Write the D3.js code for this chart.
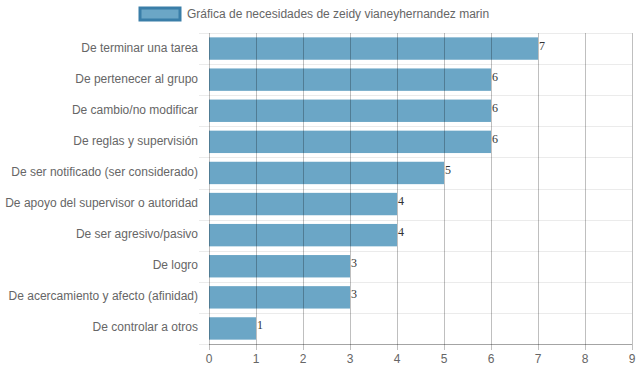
<!DOCTYPE html>
<html>
<head>
<meta charset="utf-8">
<script src="https://cdn.jsdelivr.net/npm/d3@7"></script>
<style>
  body { margin: 0; background: #fff; }
  svg { display: block; font-family: "Liberation Sans", Arial, sans-serif; }
</style>
</head>
<body>
<div id="chart"></div>
<script>
const categories = [
    "De terminar una tarea",
    "De pertenecer al grupo",
    "De cambio/no modificar",
    "De reglas y supervisión",
    "De ser notificado (ser considerado)",
    "De apoyo del supervisor o autoridad",
    "De ser agresivo/pasivo",
    "De logro",
    "De acercamiento y afecto (afinidad)",
    "De controlar a otros"
]
const values = [7, 6, 6, 6, 5, 4, 4, 3, 3, 1]
const xTicks = [0, 1, 2, 3, 4, 5, 6, 7, 8, 9]
const legendLabel = "Gráfica de necesidades de zeidy vianeyhernandez marin"

function drawChart() {
    const width = 639, height = 372
    const margin = {top: 33, right: 7, bottom: 28, left: 209}

    let svg = d3.select("#chart").append("svg")
        .attr("width", width)
        .attr("height", height)

    let x = d3.scaleLinear()
        .domain([0, 9])
        .range([margin.left, width - margin.right])

    let y = d3.scaleBand()
        .domain(categories)
        .range([margin.top, height - margin.bottom])

    // horizontal grid lines between categories
    let hLines = categories.map(c => y(c)).concat([y.range()[1]])
    svg.append("g").selectAll("line")
        .data(hLines)
        .enter().append("line")
        .attr("x1", margin.left - 10)
        .attr("x2", width - margin.right)
        .attr("y1", d => Math.round(d) + 0.5)
        .attr("y2", d => Math.round(d) + 0.5)
        .attr("stroke", "rgba(0,0,0,0.08)")

    // bars
    let barH = y.bandwidth() * 0.72
    svg.append("g").selectAll("rect")
        .data(values)
        .enter().append("rect")
        .attr("x", x(0))
        .attr("y", (d, i) => y(categories[i]) + (y.bandwidth() - barH) / 2)
        .attr("width", d => x(d) - x(0))
        .attr("height", barH)
        .attr("fill", "#6ba6c6")

    // vertical grid lines
    svg.append("g").selectAll("line")
        .data(xTicks)
        .enter().append("line")
        .attr("x1", d => Math.round(x(d)) + 0.5)
        .attr("x2", d => Math.round(x(d)) + 0.5)
        .attr("y1", margin.top)
        .attr("y2", height - margin.bottom + 6)
        .attr("stroke", "rgba(0,0,0,0.25)")

    // bottom axis line
    svg.append("line")
        .attr("x1", x(0))
        .attr("x2", width - margin.right)
        .attr("y1", height - margin.bottom + 0.5)
        .attr("y2", height - margin.bottom + 0.5)
        .attr("stroke", "rgba(0,0,0,0.3)")

    // x tick labels
    svg.append("g").selectAll("text")
        .data(xTicks)
        .enter().append("text")
        .attr("x", d => x(d))
        .attr("y", height - margin.bottom + 19)
        .attr("text-anchor", "middle")
        .attr("font-size", 12)
        .attr("fill", "#666")
        .text(d => d)

    // category labels
    svg.append("g").selectAll("text")
        .data(categories)
        .enter().append("text")
        .attr("x", margin.left - 11)
        .attr("y", d => y(d) + y.bandwidth() / 2 + 3)
        .attr("text-anchor", "end")
        .attr("font-size", 12)
        .attr("fill", "#666")
        .text(d => d)

    // value labels
    svg.append("g").selectAll("text")
        .data(values)
        .enter().append("text")
        .attr("x", d => x(d) + 1)
        .attr("y", (d, i) => y(categories[i]) + y.bandwidth() / 2 + 1)
        .attr("font-family", "'Liberation Serif', serif")
        .attr("font-size", 12)
        .attr("fill", "#333")
        .text(d => d)

    // legend
    let legend = svg.append("g")
    legend.append("rect")
        .attr("x", 140)
        .attr("y", 8)
        .attr("width", 40)
        .attr("height", 12)
        .attr("fill", "#6ba6c6")
        .attr("stroke", "#3a7ea8")
        .attr("stroke-width", 3)
    legend.append("text")
        .attr("x", 187)
        .attr("y", 18)
        .attr("font-size", 12)
        .attr("fill", "#666")
        .text(legendLabel)
}

drawChart()
</script>
</body>
</html>
